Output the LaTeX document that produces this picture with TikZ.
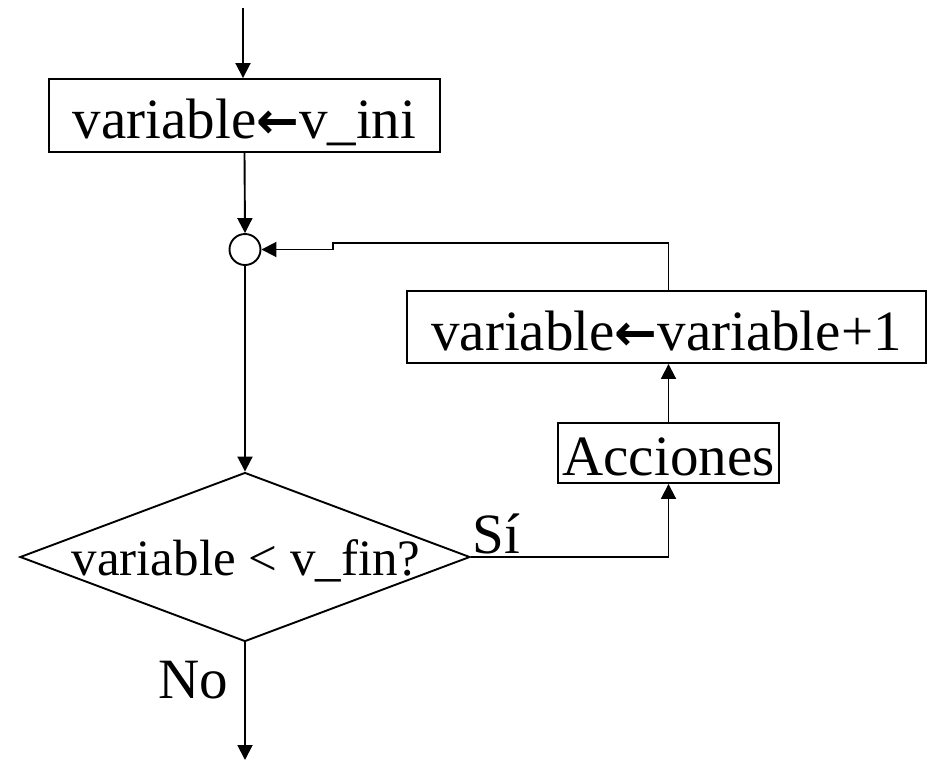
\documentclass[tikz,border=0pt]{standalone}
\usepackage{fontspec}
\setmainfont{Liberation Serif}
\newfontfamily\arrfont{DejaVu Sans}
\usetikzlibrary{arrows.meta,shapes.geometric}
% heavy assignment arrow
\newcommand\asgn{{\arrfont\bfseries\fontsize{51}{54}\selectfont ←}}
\begin{document}
\begin{tikzpicture}[x=1pt,y=-1pt,
  line width=1.9pt,
  big/.style={font=\fontsize{57}{60}\selectfont},
  mid/.style={font=\fontsize{51}{54}\selectfont},
  box/.style={draw,big,inner sep=0pt,align=center},
  arr/.style={-{Triangle[length=15pt,width=15pt]}},
  lbl/.style={big,inner sep=0pt}]
\useasboundingbox (0,0) rectangle (929,761);

% process boxes
\node[box,minimum width=391pt,text height=59pt,text depth=14pt] (ini) at (244.5,115.5) {variable\asgn v\_ini};
\node[box,minimum width=519pt,text height=59pt,text depth=13pt] (inc) at (666.5,327) {variable\asgn variable+1};
\node[box,minimum width=221pt,text height=52pt,text depth=8pt] (acc) at (668.5,453) {Acciones};

% junction and decision
\node[circle,draw,minimum size=31pt,inner sep=0pt] (jn) at (245,249.5) {};
\node[diamond,draw,minimum width=450pt,minimum height=169pt,inner sep=0pt] (cond) at (245,557) {};
\node[mid,anchor=base,inner sep=0pt] (condtxt) at (246,575) {variable < v\_fin?};

% branch labels
\node[lbl,anchor=base east] (no) at (229,698) {No};
\node[lbl,anchor=base west] (si) at (472,553) {Sí};

% loose ends and bend of the return line
\coordinate (start) at (243,8);
\coordinate (exit) at (245,760);
\coordinate (stp) at (333,243);

% connectors
\draw[arr] (start) -- (start |- ini.north);
\draw[arr] (ini.south) -- (jn.north);
\draw[arr] (jn.south) -- (cond.north);
\draw[arr] (cond.south) -- (exit);
\draw[arr] (cond.east) -| (acc.south);
\draw[arr] (acc.north) -- (acc.north |- inc.south);
\draw[arr] (inc.north -| acc.north) |- (stp) -- (stp |- jn.east) -- (jn.east);
\end{tikzpicture}
\end{document}
